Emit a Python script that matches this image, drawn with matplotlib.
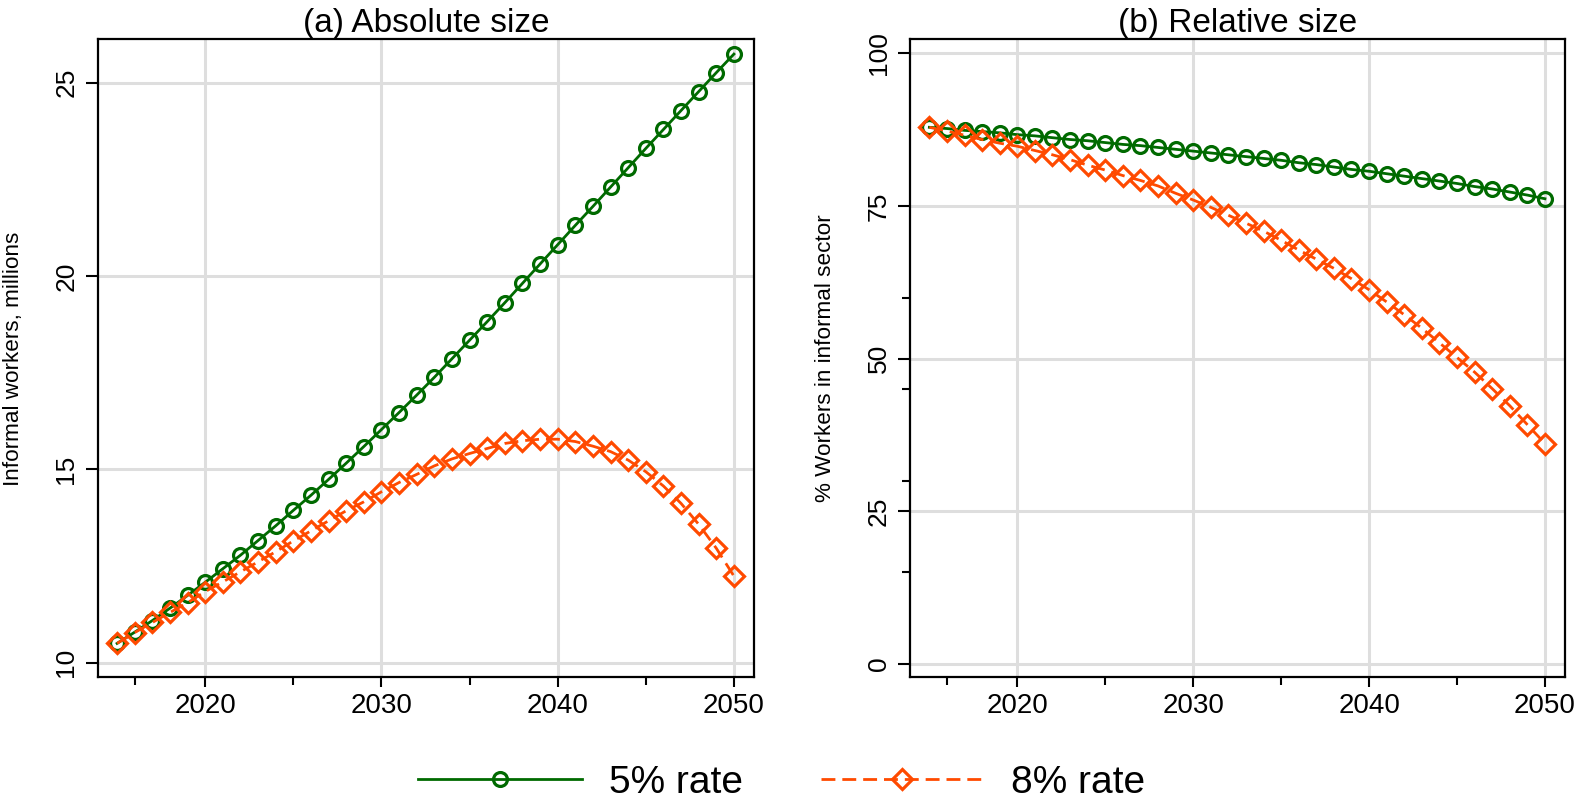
import matplotlib
matplotlib.use("Agg")
import matplotlib.pyplot as plt
from matplotlib.lines import Line2D
import numpy as np

plt.rcParams['font.family'] = ['Liberation Sans', 'DejaVu Sans']

years = list(range(2015, 2051))

abs_5pct = [10.50, 10.79, 11.09, 11.41, 11.74, 12.08, 12.43, 12.78, 13.16, 13.54,
            13.94, 14.33, 14.74, 15.16, 15.59, 16.03, 16.47, 16.92, 17.38, 17.86,
            18.34, 18.82, 19.31, 19.81, 20.31, 20.81, 21.31, 21.80, 22.30, 22.80,
            23.30, 23.79, 24.28, 24.77, 25.26, 25.74]
abs_8pct = [10.50, 10.78, 11.04, 11.30, 11.55, 11.84, 12.09, 12.35, 12.61, 12.87,
            13.15, 13.41, 13.67, 13.93, 14.16, 14.42, 14.66, 14.87, 15.09, 15.27,
            15.41, 15.54, 15.67, 15.74, 15.78, 15.78, 15.72, 15.60, 15.46, 15.24,
            14.94, 14.57, 14.12, 13.58, 12.96, 12.24]

rel_5pct = [87.9, 87.7, 87.4, 87.2, 87.0, 86.7, 86.5, 86.2, 85.9, 85.7,
            85.4, 85.1, 84.9, 84.6, 84.3, 84.0, 83.7, 83.4, 83.1, 82.8,
            82.5, 82.1, 81.8, 81.4, 81.0, 80.7, 80.3, 79.9, 79.5, 79.1,
            78.7, 78.2, 77.8, 77.3, 76.8, 76.2]
rel_8pct = [87.9, 87.3, 86.6, 85.9, 85.3, 84.8, 84.1, 83.4, 82.6, 81.7,
            80.9, 80.0, 79.2, 78.3, 77.1, 76.0, 74.8, 73.5, 72.2, 70.9,
            69.4, 67.8, 66.3, 64.8, 63.1, 61.3, 59.3, 57.2, 55.0, 52.6,
            50.2, 47.8, 45.1, 42.3, 39.2, 36.1]

series_labels = ["5% rate", "8% rate"]
titles = ["(a) Absolute size", "(b) Relative size"]
ylabels = ["Informal workers, millions", "% Workers in informal sector"]
x_major = [2020, 2030, 2040, 2050]
x_minor = [2016, 2025, 2035, 2045]
y_major_a = [10, 15, 20, 25]
y_major_b = [0, 25, 50, 75, 100]
y_minor_b = [15, 30, 45, 60]

GREEN = '#006a00'
ORANGE = '#ff4a00'
GRID = '#dedede'

fig = plt.figure(figsize=(15.91, 8.0), dpi=100)
W, H = 1591.0, 800.0
bottom = (H - 677.4) / H
height = (677.4 - 39.4) / H
axA = fig.add_axes([97.7 / W, bottom, 656.3 / W, height])
axB = fig.add_axes([910.0 / W, bottom, 655.0 / W, height])

green_kw = dict(color=GREEN, lw=2.0, marker='o', ms=10, mfc='none', mec=GREEN, mew=2.3)
orange_kw = dict(color=ORANGE, lw=2.0, ls=(0, (5, 2.5)), marker='D', ms=10.5,
                 mfc='none', mec=ORANGE, mew=2.3)

def style(ax, ymaj, ylim, title, ylabel, yminor=None):
    ax.set_xlim(2013.9, 2051.14)
    ax.set_ylim(*ylim)
    ax.set_xticks(x_major)
    ax.set_xticks(x_minor, minor=True)
    ax.set_yticks(ymaj)
    if yminor:
        ax.set_yticks(yminor, minor=True)
    ax.grid(True, which='major', color=GRID, lw=2.2)
    ax.set_axisbelow(True)
    for s in ax.spines.values():
        s.set_linewidth(1.6)
        s.set_color('black')
    ax.tick_params(axis='x', which='major', length=7, width=1.5, labelsize=20, pad=4)
    ax.tick_params(axis='x', which='minor', length=6, width=1.5)
    ax.tick_params(axis='y', which='major', length=9, width=1.5, labelsize=19, pad=5,
                   labelrotation=90)
    ax.tick_params(axis='y', which='minor', length=5.5, width=1.5)
    for lab in ax.get_yticklabels():
        lab.set_va('center')
    ax.set_title(title, fontsize=24, pad=3)
    ax.set_ylabel(ylabel, fontsize=16.2)
    ax.yaxis.set_label_coords(-0.113, 0.5)

axA.plot(years, abs_5pct, **green_kw)
axA.plot(years, abs_8pct, **orange_kw)
style(axA, y_major_a, (9.62, 26.12), titles[0], ylabels[0])

axB.plot(years, rel_5pct, **green_kw)
axB.plot(years, rel_8pct, **orange_kw)
style(axB, y_major_b, (-2.2, 102.3), titles[1], ylabels[1], y_minor_b)

handles = [Line2D([], [], **green_kw), Line2D([], [], **orange_kw)]
fig.legend(handles, series_labels, loc='center', bbox_to_anchor=(782 / W, 1 - 783 / H),
           ncol=2, frameon=False, fontsize=28, handlelength=4.2, handletextpad=0.7,
           columnspacing=2.0, markerscale=1.0)

fig.savefig('out.png', dpi=100, facecolor='white')
